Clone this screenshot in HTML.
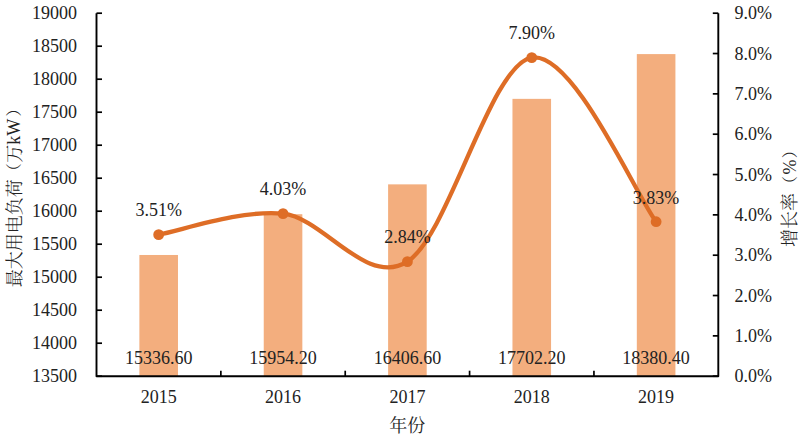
<!DOCTYPE html>
<html><head><meta charset="utf-8"><style>
html,body{margin:0;padding:0;background:#fff;}
svg{display:block;}
</style></head><body>
<svg width="800" height="437" viewBox="0 0 800 437" font-family="'Liberation Serif','Noto Serif CJK SC',serif" font-size="18" fill="#222">
<rect width="800" height="437" fill="#fff"/>
<rect x="139.38" y="254.98" width="38.6" height="121.22" fill="#F3AE7E"/>
<rect x="263.74" y="214.22" width="38.6" height="161.98" fill="#F3AE7E"/>
<rect x="388.10" y="184.36" width="38.6" height="191.84" fill="#F3AE7E"/>
<rect x="512.46" y="98.85" width="38.6" height="277.35" fill="#F3AE7E"/>
<rect x="636.82" y="54.09" width="38.6" height="322.11" fill="#F3AE7E"/>
<g stroke="#000" stroke-width="1.7" fill="none">
<path d="M96.5,13.2 V376.2 H718.3 V13.2" stroke-width="1.9" stroke-linejoin="round"/>
<path d="M96.5,13.20 h5.5"/>
<path d="M96.5,46.20 h5.5"/>
<path d="M96.5,79.20 h5.5"/>
<path d="M96.5,112.20 h5.5"/>
<path d="M96.5,145.20 h5.5"/>
<path d="M96.5,178.20 h5.5"/>
<path d="M96.5,211.20 h5.5"/>
<path d="M96.5,244.20 h5.5"/>
<path d="M96.5,277.20 h5.5"/>
<path d="M96.5,310.20 h5.5"/>
<path d="M96.5,343.20 h5.5"/>
<path d="M96.5,376.20 h5.5"/>
<path d="M718.3,13.20 h-5.5"/>
<path d="M718.3,53.53 h-5.5"/>
<path d="M718.3,93.87 h-5.5"/>
<path d="M718.3,134.20 h-5.5"/>
<path d="M718.3,174.53 h-5.5"/>
<path d="M718.3,214.87 h-5.5"/>
<path d="M718.3,255.20 h-5.5"/>
<path d="M718.3,295.53 h-5.5"/>
<path d="M718.3,335.87 h-5.5"/>
<path d="M718.3,376.20 h-5.5"/>
<path d="M220.86,376.2 v-5.5"/>
<path d="M345.22,376.2 v-5.5"/>
<path d="M469.58,376.2 v-5.5"/>
<path d="M593.94,376.2 v-5.5"/>
</g>
<path d="M158.68,234.63 C179.41,231.13 241.59,209.15 283.04,213.66 C324.49,218.16 365.95,287.67 407.40,261.65 C448.85,235.64 490.31,64.22 531.76,57.57 C573.21,50.91 635.39,194.36 656.12,221.72" fill="none" stroke="#DE6D26" stroke-width="4.25"/>
<circle cx="158.68" cy="234.63" r="5.4" fill="#DE6D26"/>
<circle cx="283.04" cy="213.66" r="5.4" fill="#DE6D26"/>
<circle cx="407.40" cy="261.65" r="5.4" fill="#DE6D26"/>
<circle cx="531.76" cy="57.57" r="5.4" fill="#DE6D26"/>
<circle cx="656.12" cy="221.72" r="5.4" fill="#DE6D26"/>
<text x="77.1" y="19.40" text-anchor="end">19000</text>
<text x="77.1" y="52.40" text-anchor="end">18500</text>
<text x="77.1" y="85.40" text-anchor="end">18000</text>
<text x="77.1" y="118.40" text-anchor="end">17500</text>
<text x="77.1" y="151.40" text-anchor="end">17000</text>
<text x="77.1" y="184.40" text-anchor="end">16500</text>
<text x="77.1" y="217.40" text-anchor="end">16000</text>
<text x="77.1" y="250.40" text-anchor="end">15500</text>
<text x="77.1" y="283.40" text-anchor="end">15000</text>
<text x="77.1" y="316.40" text-anchor="end">14500</text>
<text x="77.1" y="349.40" text-anchor="end">14000</text>
<text x="77.1" y="382.40" text-anchor="end">13500</text>
<text x="734.4" y="19.40">9.0%</text>
<text x="734.4" y="59.73">8.0%</text>
<text x="734.4" y="100.07">7.0%</text>
<text x="734.4" y="140.40">6.0%</text>
<text x="734.4" y="180.73">5.0%</text>
<text x="734.4" y="221.07">4.0%</text>
<text x="734.4" y="261.40">3.0%</text>
<text x="734.4" y="301.73">2.0%</text>
<text x="734.4" y="342.07">1.0%</text>
<text x="734.4" y="382.40">0.0%</text>
<text x="158.68" y="403.3" text-anchor="middle">2015</text>
<text x="283.04" y="403.3" text-anchor="middle">2016</text>
<text x="407.40" y="403.3" text-anchor="middle">2017</text>
<text x="531.76" y="403.3" text-anchor="middle">2018</text>
<text x="656.12" y="403.3" text-anchor="middle">2019</text>
<text x="158.68" y="363.8" text-anchor="middle">15336.60</text>
<text x="283.04" y="363.8" text-anchor="middle">15954.20</text>
<text x="407.40" y="363.8" text-anchor="middle">16406.60</text>
<text x="531.76" y="363.8" text-anchor="middle">17702.20</text>
<text x="656.12" y="363.8" text-anchor="middle">18380.40</text>
<text x="158.68" y="216.43" text-anchor="middle">3.51%</text>
<text x="283.04" y="195.46" text-anchor="middle">4.03%</text>
<text x="407.40" y="243.45" text-anchor="middle">2.84%</text>
<text x="531.76" y="39.37" text-anchor="middle">7.90%</text>
<text x="656.12" y="203.52" text-anchor="middle">3.83%</text>
<text x="407.3" y="431.7" text-anchor="middle">年份</text>
<text transform="translate(20.8,233.3) rotate(-90)" text-anchor="middle" font-weight="300">最大用电负荷</text>
<text transform="translate(19.3,171.2) rotate(-90)" text-anchor="middle" font-size="16" font-weight="300">（</text>
<text transform="translate(20.8,153.8) rotate(-90)" text-anchor="middle" font-weight="300">万</text>
<text transform="translate(20.4,131.7) rotate(-90)" text-anchor="middle">kW</text>
<text transform="translate(19.3,108.5) rotate(-90)" text-anchor="middle" font-size="16" font-weight="300">）</text>
<text transform="translate(795.9,219.9) rotate(-90)" text-anchor="middle" font-weight="300">增长率</text>
<text transform="translate(795.0,184.1) rotate(-90)" text-anchor="middle" font-size="16" font-weight="300">（</text>
<text transform="translate(796.4,167.1) rotate(-90)" text-anchor="middle">%</text>
<text transform="translate(795.0,150.2) rotate(-90)" text-anchor="middle" font-size="16" font-weight="300">）</text>
</svg>
</body></html>
